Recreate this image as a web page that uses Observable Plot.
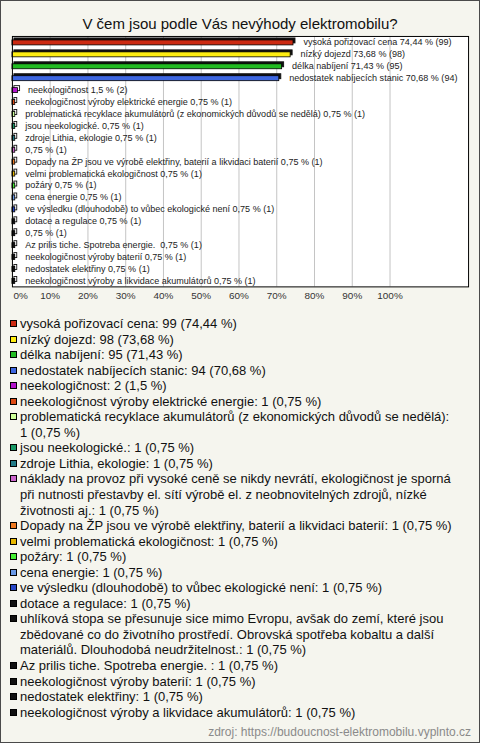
<!DOCTYPE html>
<html>
<head>
<meta charset="utf-8">
<script src="https://cdn.jsdelivr.net/npm/d3@7"></script>
<script src="https://cdn.jsdelivr.net/npm/@observablehq/plot@0.6"></script>
<style>
  html, body { margin: 0; padding: 0; background: #fff; }
  #wrap { position: relative; width: 480px; height: 743px; box-sizing: border-box;
          border: 1px solid #4a4a4a; background: #f5f5ee; font-family: "Liberation Sans", Arial, sans-serif; overflow: hidden; }
  #title { position: absolute; left: 0; top: 14px; width: 478px; text-align: center; font-size: 15px; line-height: 17px; color: #111; }
  #chart { position: absolute; left: -1px; top: 29px; }
  #legend { position: absolute; left: 0; top: 315px; width: 466px; box-sizing: border-box; font-size: 13px; line-height: 15.55px; color: #111; }
  .item { position: relative; padding-left: 19px; }
  .sw { position: absolute; left: 9px; top: 4px; width: 5px; height: 5px; border: 1px solid #000; }
  #source { position: absolute; right: 8px; top: 724px; font-size: 12px; line-height: 14px; color: #8a8a8a; }
</style>
</head>
<body>
<div id="wrap">
  <div id="title">V čem jsou podle Vás nevýhody elektromobilu?</div>
  <div id="chart"></div>
  <div id="legend"></div>
  <div id="source">zdroj: https://budoucnost-elektromobilu.vyplnto.cz</div>
</div>
<script>
const categories = [
  "vysoká pořizovací cena",
  "nízký dojezd",
  "délka nabíjení",
  "nedostatek nabíjecích stanic",
  "neekologičnost",
  "neekologičnost výroby elektrické energie",
  "problematická recyklace akumulátorů (z ekonomických důvodů se nedělá)",
  "jsou neekologické.",
  "zdroje Lithia, ekologie",
  "náklady na provoz při vysoké ceně se nikdy nevrátí, ekologičnost je sporná při nutnosti přestavby el. sítí výrobě el. z neobnovitelných zdrojů, nízké životnosti aj.",
  "Dopady na ŽP jsou ve výrobě elektřiny, baterií a likvidaci baterií",
  "velmi problematická ekologičnost",
  "požáry",
  "cena energie",
  "ve výsledku (dlouhodobě) to vůbec ekologické není",
  "dotace a regulace",
  "uhlíková stopa se přesunuje sice mimo Evropu, avšak do zemí, které jsou zbědované co do životního prostředí. Obrovská spotřeba kobaltu a další materiálů. Dlouhodobá neudržitelnost.",
  "Az prilis tiche. Spotreba energie. ",
  "neekologičnost výroby baterií",
  "nedostatek elektřiny",
  "neekologičnost výroby a likvidace akumulátorů"
];
const counts = [99, 98, 95, 94, 2, 1, 1, 1, 1, 1, 1, 1, 1, 1, 1, 1, 1, 1, 1, 1, 1];
const percents = [74.44, 73.68, 71.43, 70.68, 1.5, 0.75, 0.75, 0.75, 0.75, 0.75, 0.75, 0.75, 0.75, 0.75, 0.75, 0.75, 0.75, 0.75, 0.75, 0.75, 0.75];
const colors = [
  "#cc2a12", "#ffee11", "#22bb22", "#3d66e0", "#b315cc",
  "#dd4a14", "#ccff99", "#189966", "#237c88", "#cc66cc",
  "#ee7a22", "#e8b800", "#44ee33", "#6a9ae8", "#2747c8",
  "#111111", "#111111", "#111111", "#111111", "#111111", "#111111"
];
const xTicks = [0, 10, 20, 30, 40, 50, 60, 70, 80, 90, 100];
const gridTicks = [10, 20, 30, 40, 50, 60, 70, 80, 90, 100];

const fmt = v => String(v).replace(".", ",");
const rows = categories.map((name, i) => ({
  name, count: counts[i], pct: percents[i], color: colors[i],
  big: percents[i] > 5,
  label: (name.length > 100 ? "" : name + " ") + fmt(percents[i]) + " % (" + counts[i] + ")"
}));

const font = "'Liberation Sans', Arial, sans-serif";
const chart = Plot.plot({
  width: 482,
  height: 280,
  marginTop: 6,
  marginBottom: 22,
  marginLeft: 12,
  marginRight: 11,
  style: { background: "transparent", fontFamily: font, overflow: "visible" },
  x: { domain: [0, 120.8], axis: null },
  y: { domain: categories, padding: 0, axis: null },
  marks: [
    Plot.frame({ fill: "white", stroke: "none" }),
    Plot.ruleX(gridTicks, { stroke: "#c4c4c4", strokeWidth: 1 }),
    Plot.barX(rows, { x: "pct", y: "name", fill: d => d.big ? "#111" : "white", stroke: "#111", strokeWidth: 0.9, dx: 2, dy: -2, insetTop: 4, insetBottom: 3 }),
    Plot.barX(rows, { x: "pct", y: "name", fill: "color", stroke: "#000", strokeWidth: 0.8, insetTop: 4, insetBottom: 3 }),
    Plot.text(rows, { x: "pct", y: "name", text: "label", dx: 10, textAnchor: "start", fontSize: 9.1, fill: "#222", fontFamily: font, style: "white-space: pre" }),
    Plot.frame({ stroke: "#000", strokeWidth: 1 }),
    Plot.text(xTicks.filter(d => d === 0), { x: d => d, frameAnchor: "bottom", dy: 12, dx: 1, textAnchor: "start", text: d => d + "%", fontSize: 10, fill: "#333", fontFamily: font }),
    Plot.text(xTicks.filter(d => d !== 0), { x: d => d, frameAnchor: "bottom", dy: 12, text: d => d + "%", fontSize: 10, fill: "#333", fontFamily: font })
  ]
});
document.getElementById("chart").appendChild(chart);

const legend = document.getElementById("legend");
rows.forEach(r => {
  const item = document.createElement("div");
  item.className = "item";
  const sw = document.createElement("span");
  sw.className = "sw";
  sw.style.background = r.color;
  item.appendChild(sw);
  const value = (r.count + " (" + fmt(r.pct) + " %)").replace(/ /g, "\u00a0");
  item.appendChild(document.createTextNode(r.name + ": " + value));
  legend.appendChild(item);
});
</script>
</body>
</html>
